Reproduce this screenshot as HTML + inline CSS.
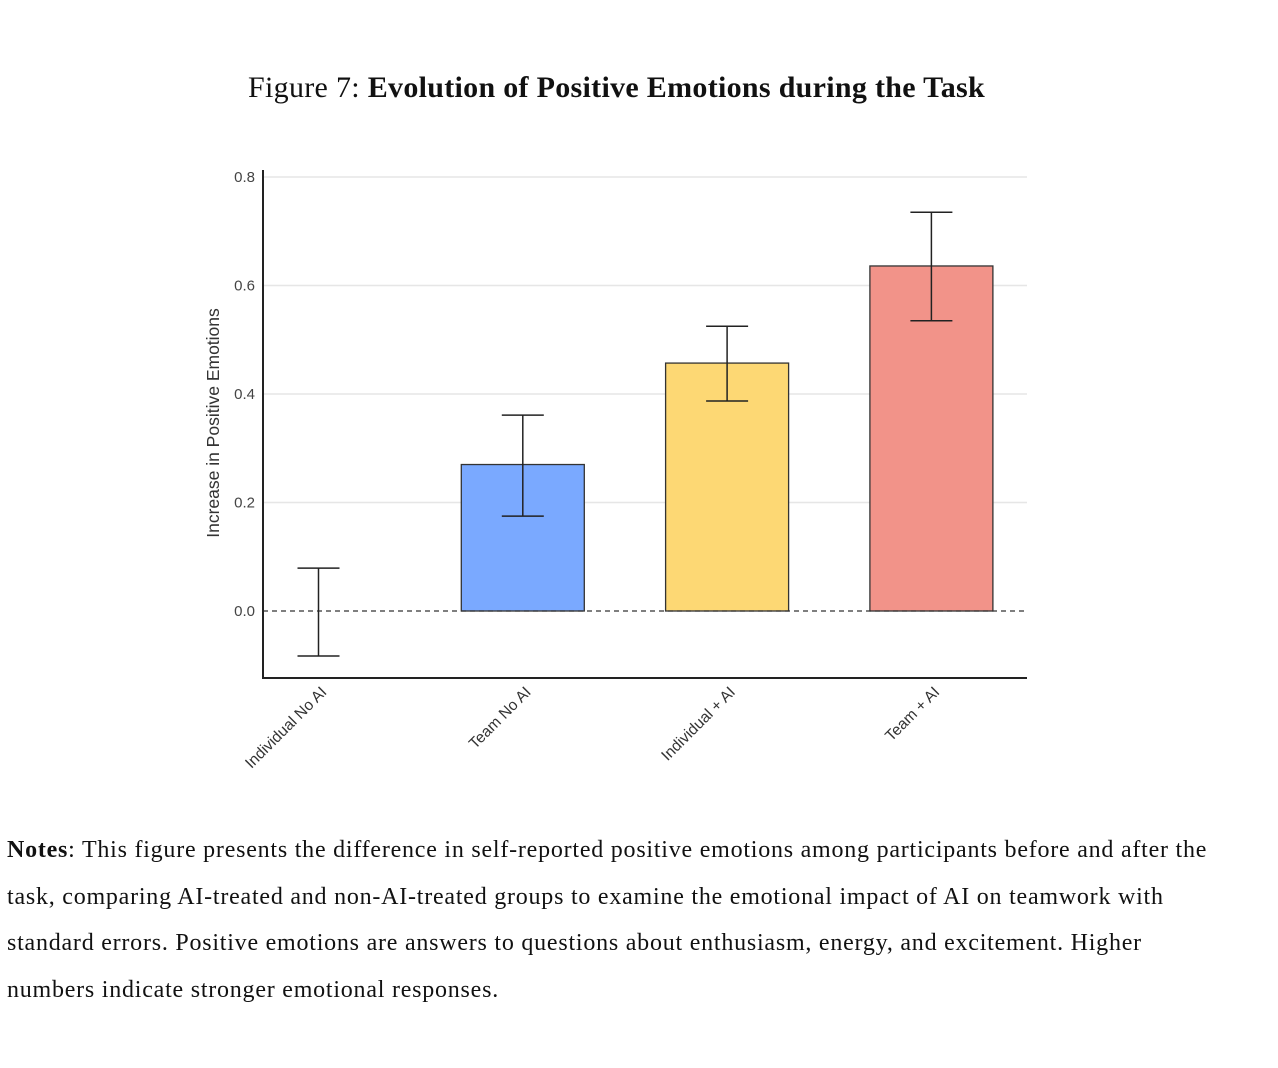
<!DOCTYPE html>
<html><head><meta charset="utf-8"><style>
body{margin:0;background:#fff;width:1278px;height:1068px;overflow:hidden;position:relative}
#title{position:absolute;top:71px;left:0;width:1233px;text-align:center;font-family:"Liberation Serif",serif;font-size:30px;letter-spacing:0.3px;color:#111;white-space:nowrap}
#notes{position:absolute;top:827px;left:7px;width:1260px;font-family:"Liberation Serif",serif;font-size:24px;letter-spacing:0.77px;line-height:46.5px;color:#111}
#notes div{white-space:nowrap}
svg{position:absolute;left:0;top:0}
</style></head><body>
<div id="title">Figure 7: <b>Evolution of Positive Emotions during the Task</b></div>
<svg id="chart" width="1278" height="820"></svg>
<div id="notes">
<div><b>Notes</b>: This figure presents the difference in self-reported positive emotions among participants before and after the</div>
<div>task, comparing AI-treated and non-AI-treated groups to examine the emotional impact of AI on teamwork with</div>
<div>standard errors. Positive emotions are answers to questions about enthusiasm, energy, and excitement. Higher</div>
<div>numbers indicate stronger emotional responses.</div>
</div>
<script>
const categories=["Individual No AI","Team No AI","Individual + AI","Team + AI"];
const values=[0,0.27,0.457,0.636];
const errLow=[-0.083,0.175,0.387,0.535];
const errHigh=[0.079,0.361,0.525,0.735];
const colors=["#7aa9ff","#7aa9ff","#fdd874","#f29389"];
const yTicks=[0,0.2,0.4,0.6,0.8];
const tickLabels=["0.0","0.2","0.4","0.6","0.8"];
const NS="http://www.w3.org/2000/svg";
const svg=document.getElementById('chart');
const x0=263,x1=1027,yAxisBottom=678,yTop=170;
function y(v){return 611-v*542.5;}
function xc(i){return 318.5+i*204.3;}
function mk(t,a,p){const e=document.createElementNS(NS,t);for(const k in a)e.setAttribute(k,a[k]);(p||svg).appendChild(e);return e;}
yTicks.forEach((t,i)=>{
  if(t>0){const g=mk('line',{x1:x0,x2:x1,y1:y(t),y2:y(t),stroke:'#e6e6e6','stroke-width':1.5});
  
  }
  const l=mk('text',{x:255,y:y(t)+5,'text-anchor':'end','font-family':'Liberation Sans, sans-serif','font-size':15,fill:'#444'});
  l.textContent=tickLabels[i];
  
  
});
values.forEach((v,i)=>{
  if(v>0){const b=mk('rect',{x:xc(i)-61.5,y:y(v),width:123,height:y(0)-y(v),fill:colors[i],stroke:'#333','stroke-width':1.3});
  
  }
});
const z=mk('line',{x1:x0,x2:x1,y1:y(0),y2:y(0),stroke:'#333','stroke-width':1.3,'stroke-dasharray':'5,4'});


values.forEach((v,i)=>{
  const g=mk('g',{stroke:'#222','stroke-width':1.5});
  
  
  const c=xc(i);
  mk('line',{x1:c,x2:c,y1:y(errLow[i]),y2:y(errHigh[i])},g);
  mk('line',{x1:c-21,x2:c+21,y1:y(errLow[i]),y2:y(errLow[i])},g);
  mk('line',{x1:c-21,x2:c+21,y1:y(errHigh[i]),y2:y(errHigh[i])},g);
  const t=mk('text',{transform:`translate(${c+9},${693}) rotate(-45)`,'text-anchor':'end','font-family':'Liberation Sans, sans-serif','font-size':15.5,fill:'#333'});
  t.textContent=categories[i];
  
  
});
const ax=mk('path',{d:`M${x0},${yTop} V${yAxisBottom} H${x1}`,fill:'none',stroke:'#222','stroke-width':2});


const yt=mk('text',{transform:'translate(219,423) rotate(-90)','text-anchor':'middle','font-family':'Liberation Sans, sans-serif','font-size':17.5,fill:'#333'});
yt.textContent='Increase in Positive Emotions';


</script>
</body></html>
